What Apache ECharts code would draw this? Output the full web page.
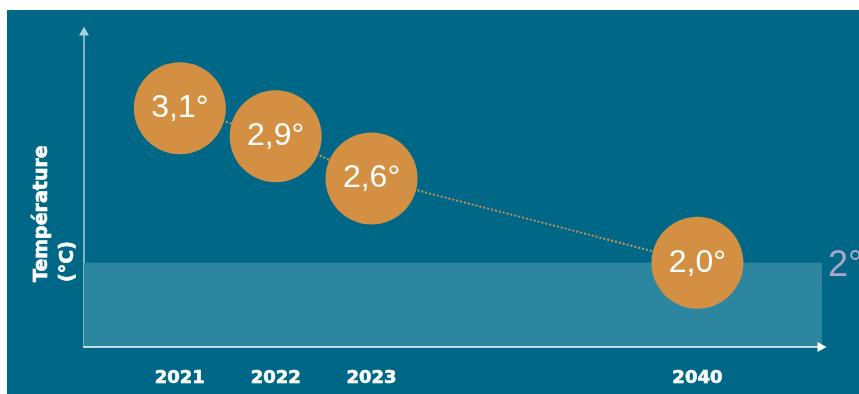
<!DOCTYPE html>
<html>
<head>
<meta charset="utf-8">
<script src="https://cdn.jsdelivr.net/npm/echarts@6/dist/echarts.min.js"></script>
<style>
  html, body { margin: 0; padding: 0; background: #ffffff; }
  #chart { position: absolute; left: 7px; top: 10px; width: 852px; height: 384px; background: #006886; }
</style>
</head>
<body>
<div id="chart"></div>
<script>
// données
const years = ['2021', '2022', '2023', '2040'];
const temps = [3.1, 2.9, 2.6, 2.0];
// place de chaque année sur l'axe x (l'axe est compressé entre 2023 et 2040)
const slots = [1, 2, 3, 6.4];
const target = 2;

const chart = echarts.init(document.getElementById('chart'));

const points = slots.map((s, i) => [s, temps[i]]);
const fmt = v => v.toFixed(1).replace('.', ',') + '°';

const option = {
  animation: false,
  grid: { left: 77, right: 37, top: 21, bottom: 47 },
  xAxis: {
    type: 'value',
    min: 0,
    max: 7.7,
    z: 5,
    axisLine: {
      show: true,
      symbol: ['none', 'triangle'],
      symbolSize: [10, 9],
      lineStyle: { color: '#ffffff', width: 1.5 }
    },
    axisTick: { show: false },
    splitLine: { show: false },
    axisLabel: {
      customValues: slots,
      formatter: v => years[slots.indexOf(v)],
      color: '#ffffff',
      fontFamily: 'DejaVu Sans',
      fontWeight: 'bold',
      fontSize: 18,
      textBorderColor: '#ffffff',
      textBorderWidth: 0.6,
      margin: 22
    }
  },
  yAxis: {
    type: 'value',
    min: 1.4,
    max: 3.65,
    axisLine: {
      show: true,
      symbol: ['none', 'triangle'],
      symbolSize: [10, 9],
      lineStyle: { color: '#a9cdd8', width: 1.5 }
    },
    axisTick: { show: false },
    axisLabel: { show: false },
    splitLine: { show: false }
  },
  graphic: [{
    type: 'text',
    x: 22,
    y: 272,
    rotation: Math.PI / 2,
    style: {
      text: 'Température\n(°C)',
      fill: '#ffffff',
      fontFamily: 'DejaVu Sans',
      fontWeight: 'bold',
      fontSize: 19,
      lineHeight: 26,
      stroke: '#ffffff',
      lineWidth: 0.6,
      align: 'left',
      verticalAlign: 'top'
    }
  }],
  series: [
    {
      type: 'line',
      data: points,
      symbol: 'none',
      z: 2,
      lineStyle: { color: '#c99458', width: 2, type: 'dotted' },
      markArea: {
        silent: true,
        itemStyle: { color: '#2d86a0' },
        data: [[{ yAxis: 1.4 }, { yAxis: target }]]
      },
      markLine: {
        silent: true,
        symbol: 'none',
        lineStyle: { color: 'rgba(0,0,0,0)', width: 0 },
        label: {
          show: true,
          position: 'end',
          formatter: target + '°',
          color: '#aaa8c9',
          fontFamily: 'Liberation Sans',
          fontSize: 36,
          distance: 6,
          offset: [0, 3]
        },
        data: [{ yAxis: target }]
      }
    },
    {
      type: 'scatter',
      data: points,
      symbolSize: 92,
      z: 3,
      itemStyle: { color: '#d39043', opacity: 1 },
      label: {
        show: true,
        position: 'inside',
        formatter: p => fmt(p.value[1]),
        color: '#ffffff',
        fontFamily: 'Liberation Sans',
        fontSize: 32
      }
    }
  ]
};

chart.setOption(option);
</script>
</body>
</html>
